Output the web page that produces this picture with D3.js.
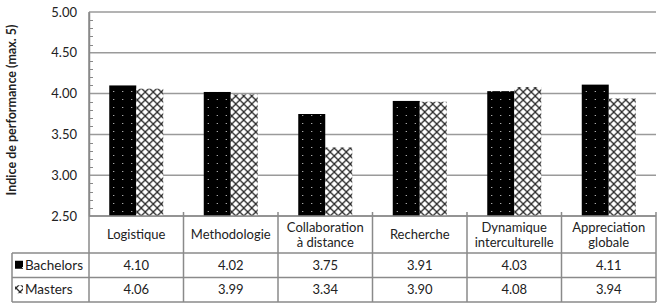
<!DOCTYPE html>
<html>
<head>
<meta charset="utf-8">
<script src="https://cdn.jsdelivr.net/npm/d3@7"></script>
<style>
  body { margin: 0; background: #fff; }
  text { font-family: Lato, "Open Sans", sans-serif; fill: #222; }
</style>
</head>
<body>
<script>
// chart values
var categories = ["Logistique", "Methodologie", "Collaboration\nà distance", "Recherche", "Dynamique\ninterculturelle", "Appreciation\nglobale"];
var bachelors = [4.10, 4.02, 3.75, 3.91, 4.03, 4.11];
var masters = [4.06, 3.99, 3.34, 3.90, 4.08, 3.94];
var seriesNames = ["Bachelors", "Masters"];
var yTicks = [2.5, 3.0, 3.5, 4.0, 4.5, 5.0];

var W = 659, H = 304;
var plot = {left: 89, right: 656, top: 12, bottom: 216};
var headerBottom = 253, rowH = 24.5, legendLeft = 12;

var svg = d3.select("body").append("svg")
    .attr("width", W)
    .attr("height", H);

var defs = svg.append("defs");

// black with white dots
var dots = defs.append("pattern")
    .attr("id", "dots")
    .attr("patternUnits", "userSpaceOnUse")
    .attr("width", 9).attr("height", 8);
dots.append("rect").attr("width", 9).attr("height", 8).attr("fill", "#000");
dots.append("rect").attr("x", 4).attr("y", 3).attr("width", 1).attr("height", 1).attr("fill", "#ddd");

// crosshatch
var hatch = defs.append("pattern")
    .attr("id", "hatch")
    .attr("patternUnits", "userSpaceOnUse")
    .attr("width", 8).attr("height", 8);
hatch.append("rect").attr("width", 8).attr("height", 8).attr("fill", "#fff");
hatch.append("path")
    .attr("d", "M0,0L8,8M8,0L0,8")
    .attr("stroke", "#2a2a2a")
    .attr("stroke-width", 1.3);

var fills = ["url(#dots)", "url(#hatch)"];

var x0 = d3.scaleBand().domain(d3.range(categories.length)).range([plot.left, plot.right]);
var x1 = d3.scaleBand().domain([0, 1]).range([0, 54]);
var y = d3.scaleLinear().domain([2.5, 5]).range([plot.bottom, plot.top]);

// gridlines
svg.append("g").selectAll("line")
    .data(yTicks)
    .enter().append("line")
    .attr("x1", plot.left).attr("x2", plot.right)
    .attr("y1", function(d) { return y(d); })
    .attr("y2", function(d) { return y(d); })
    .attr("stroke", "#9a9a9a")
    .attr("stroke-width", 1.5);

// minor ticks
var minor = d3.range(2.6, 5.0, 0.1).filter(function(v) { return Math.abs(v * 2 - Math.round(v * 2)) > 0.01; });
svg.append("g").selectAll("line")
    .data(minor)
    .enter().append("line")
    .attr("x1", plot.left).attr("x2", plot.left + 4)
    .attr("y1", function(d) { return Math.round(y(d)) + 0.5; })
    .attr("y2", function(d) { return Math.round(y(d)) + 0.5; })
    .attr("stroke", "#888");

// y axis
var yAxis = d3.axisLeft(y).tickValues(yTicks).tickFormat(d3.format(".2f")).tickSize(0).tickPadding(12);
var ya = svg.append("g")
    .attr("transform", "translate(" + plot.left + ",0)")
    .call(yAxis);
ya.select(".domain").attr("stroke", "#888").attr("stroke-width", 1.5);
ya.selectAll("text").style("font-size", "13px").style("font-family", "Lato, sans-serif").attr("fill", "#222");

svg.append("text")
    .attr("transform", "translate(12," + ((plot.top + plot.bottom) / 2 - 4) + ") rotate(-90)")
    .attr("text-anchor", "middle")
    .attr("dy", "0.35em")
    .style("font-size", "12.5px")
    .style("font-weight", "bold")
    .text("Indice de performance (max. 5)");

// bars
var groups = svg.append("g").selectAll("g")
    .data(categories.map(function(c, i) { return [bachelors[i], masters[i]]; }))
    .enter().append("g")
    .attr("transform", function(d, i) { return "translate(" + (x0(i) + (x0.bandwidth() - 54) / 2) + ",0)"; });

groups.selectAll("rect")
    .data(function(d) { return d; })
    .enter().append("rect")
    .attr("x", function(d, j) { return x1(j); })
    .attr("width", x1.bandwidth())
    .attr("y", function(d) { return y(d); })
    .attr("height", function(d) { return plot.bottom - y(d); })
    .attr("fill", function(d, j) { return fills[j]; });

// table
var grid = svg.append("g").attr("stroke", "#8a8a8a").attr("stroke-width", 1.5);
var tableBottom = headerBottom + 2 * rowH;
grid.append("line").attr("x1", plot.left).attr("x2", plot.left).attr("y1", plot.top).attr("y2", tableBottom);
x0.domain().forEach(function(i) {
  var xr = x0(i) + x0.bandwidth();
  grid.append("line").attr("x1", xr).attr("x2", xr).attr("y1", plot.bottom - 4).attr("y2", tableBottom);
});
grid.append("line").attr("x1", plot.left).attr("x2", plot.right).attr("y1", plot.bottom).attr("y2", plot.bottom);
[headerBottom, headerBottom + rowH, tableBottom].forEach(function(yy) {
  grid.append("line").attr("x1", legendLeft).attr("x2", plot.right).attr("y1", yy).attr("y2", yy);
});
grid.append("line").attr("x1", legendLeft).attr("x2", legendLeft).attr("y1", headerBottom).attr("y2", tableBottom);

// category headers
categories.forEach(function(c, i) {
  var lines = c.split("\n");
  var cx = x0(i) + x0.bandwidth() / 2;
  var t = svg.append("text")
      .attr("text-anchor", "middle")
      .attr("y", (plot.bottom + headerBottom) / 2 - (lines.length - 1) * 7.5)
      .style("font-size", "13px");
  lines.forEach(function(l, k) {
    t.append("tspan")
      .attr("x", cx)
      .attr("dy", k === 0 ? "0.35em" : "15.5px")
      .text(l);
  });
});

// data rows
[bachelors, masters].forEach(function(vals, r) {
  var cy = headerBottom + rowH * r + rowH / 2;
  svg.append("rect")
      .attr("x", 15).attr("y", cy - 4.5)
      .attr("width", 8).attr("height", 8)
      .attr("fill", fills[r]);
  svg.append("text")
      .attr("x", 25).attr("y", cy)
      .attr("dy", "0.35em")
      .style("font-size", "13.5px")
      .text(seriesNames[r]);
  vals.forEach(function(v, i) {
    svg.append("text")
      .attr("text-anchor", "middle")
      .attr("x", x0(i) + x0.bandwidth() / 2)
      .attr("y", cy)
      .attr("dy", "0.35em")
      .style("font-size", "13px")
      .text(d3.format(".2f")(v));
  });
});
</script>
</body>
</html>
